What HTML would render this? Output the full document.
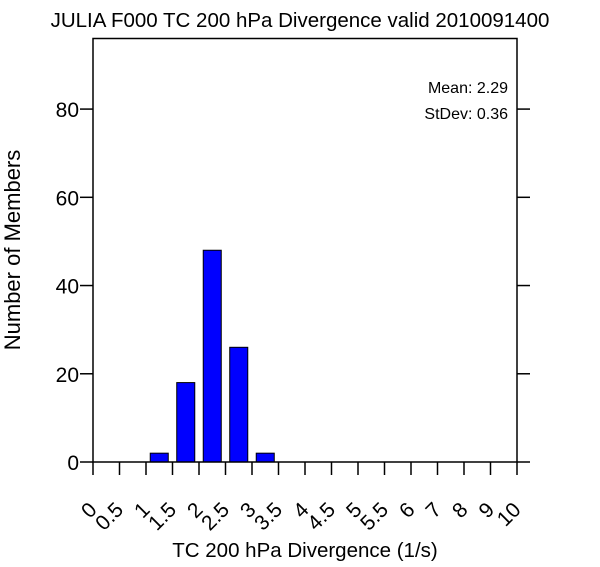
<!DOCTYPE html>
<html><head><meta charset="utf-8"><style>
body{margin:0;background:#fff;}
svg{display:block;font-family:"Liberation Sans",Arial,sans-serif;}
</style></head><body>
<svg id="chart" width="600" height="567" viewBox="0 0 600 567">
<text x="300" y="27" text-anchor="middle" font-size="20.5">JULIA F000 TC 200 hPa Divergence valid 2010091400</text>
<text x="508" y="93" text-anchor="end" font-size="16">Mean: 2.29</text>
<text x="508" y="119" text-anchor="end" font-size="16">StDev: 0.36</text>
<text transform="translate(20,250) rotate(-90)" text-anchor="middle" font-size="22">Number of Members</text>
<text x="305" y="557" text-anchor="middle" font-size="20.5">TC 200 hPa Divergence (1/s)</text>
<g id="bars"></g>
<g id="axes"></g>
</svg>
<script>
const binLabels=["0","0.5","1","1.5","2","2.5","3","3.5","4","4.5","5","5.5","6","7","8","9","10"];
const counts=[0,0,2,18,48,26,2,0,0,0,0,0,0,0,0,0];
const yTicks=[0,20,40,60,80];
const NS="http://www.w3.org/2000/svg";
const L=93,R=517,T=38.5,B=462,yMax=96;
const nb=counts.length, bw=(R-L)/nb;
const xs=i=>L+i*bw;
const ys=v=>B-(v/yMax)*(B-T);
function mk(tag,attrs,parent){const e=document.createElementNS(NS,tag);for(const k in attrs)e.setAttribute(k,attrs[k]);parent.appendChild(e);return e;}
const bars=document.getElementById('bars'),axes=document.getElementById('axes');
counts.forEach((c,i)=>{
  if(c<=0)return;
  const w=bw*0.68,x=xs(i)+(bw-w)/2;
  const r=mk('rect',{x:x,y:ys(c),width:w,height:B-ys(c),fill:'#0000ff',stroke:'#000','stroke-width':1},bars);
  
  
});
const frame=mk('rect',{x:L,y:T,width:R-L,height:B-T,fill:'none',stroke:'#000','stroke-width':1.5},axes);


yTicks.forEach(v=>{
  const y=ys(v);
  mk('line',{x1:L-13,x2:L,y1:y,y2:y,stroke:'#000','stroke-width':1.5},axes);
  mk('line',{x1:R,x2:R+13,y1:y,y2:y,stroke:'#000','stroke-width':1.5},axes);
  const t=mk('text',{x:L-14,y:y+8,'text-anchor':'end','font-size':21},axes);
  t.textContent=v;
  
  
});
binLabels.forEach((lab,i)=>{
  const x=xs(i);
  mk('line',{x1:x,x2:x,y1:B,y2:B+13,stroke:'#000','stroke-width':1.5},axes);
  const ax=x+5, ay=511;
  const t=mk('text',{x:ax,y:ay,'text-anchor':'end','font-size':21,transform:`rotate(-45 ${ax} ${ay})`},axes);
  t.textContent=lab;
  
  
});
</script>
</body></html>
